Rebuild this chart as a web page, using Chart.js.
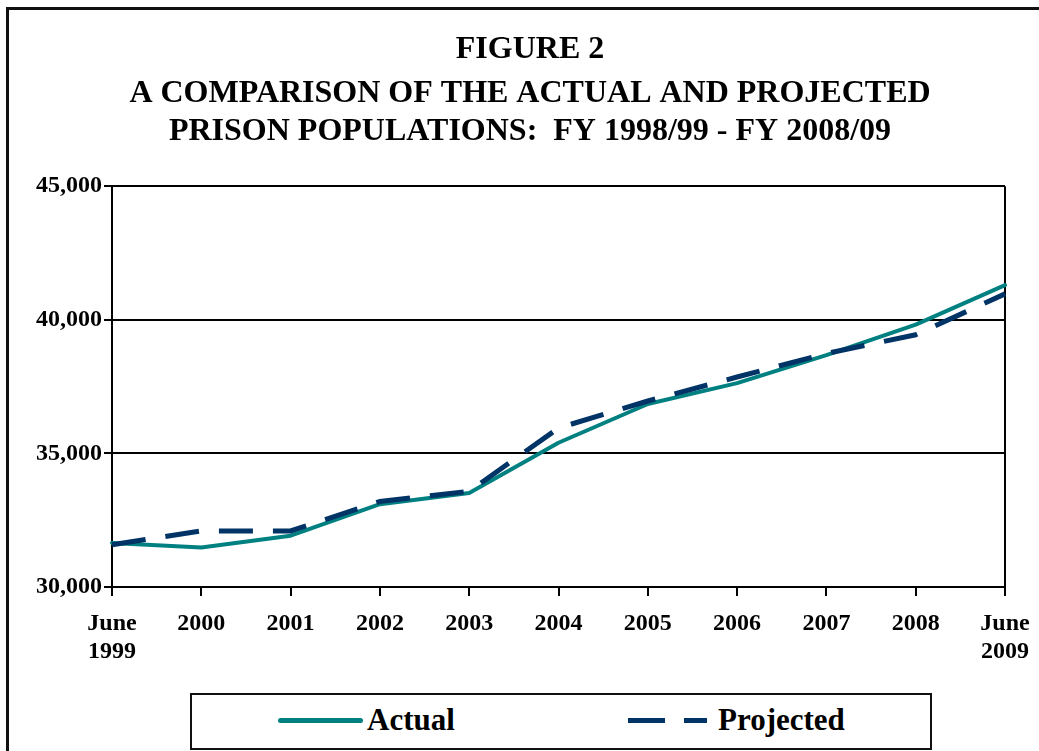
<!DOCTYPE html>
<html>
<head>
<meta charset="utf-8">
<title>Figure 2</title>
<script src="https://cdn.jsdelivr.net/npm/chart.js@4.4.1/dist/chart.umd.min.js"></script>
<style>
  html, body { margin: 0; padding: 0; background: #fff; overflow: hidden; }
  body { width: 1039px; height: 751px; position: relative; font-family: "Times New Roman", "Liberation Serif", serif; }
  #frame { position: absolute; left: 6px; top: 7px; width: 1100px; height: 800px; border: 3px solid #111; box-sizing: border-box; }
  #c { position: absolute; left: 0; top: 0; }
  #legend { position: absolute; left: 190px; top: 693px; width: 742px; height: 57px; border: 2px solid #111; box-sizing: border-box; background: #fff; }
  .sw { position: absolute; top: 23px; height: 5px; }
  .lbl { position: absolute; top: 9px; font-weight: bold; font-size: 31px; line-height: 31px; color: #000; white-space: nowrap; }
</style>
</head>
<body>
<div id="frame"></div>
<canvas id="c" width="1039" height="751"></canvas>
<div id="legend">
  <div class="sw" style="left:86px;width:85px;background:#008080;border-radius:3px;"></div>
  <div class="lbl" style="left:175px;">Actual</div>
  <div class="sw" style="left:436px;width:37px;background:#003366;"></div>
  <div class="sw" style="left:492px;width:23px;background:#003366;"></div>
  <div class="lbl" style="left:526px;">Projected</div>
</div>
<script>
// --- datos ---
const xLabels = [['June', '1999'], '2000', '2001', '2002', '2003', '2004', '2005', '2006', '2007', '2008', ['June', '2009']];
const actualPop = [31650, 31480, 31920, 33100, 33520, 35400, 36850, 37630, 38680, 39820, 41300];
const projectedPop = [31580, 32100, 32100, 33200, 33580, 35950, 36960, 37860, 38740, 39440, 40970];
const yTicks = [30000, 35000, 40000, 45000];

const serif = "'Times New Roman', 'Liberation Serif', serif";
const tickFont = { family: serif, size: 24, weight: 'bold' };
const titleFont = { family: serif, size: 32, weight: 'bold', lineHeight: 1.2 };

// el eje Y es estrecho a propósito (para centrar el título); se amplía su zona de recorte
const wideYLabels = {
    id: 'wideYLabels',
    afterLayout(chart) { chart.scales.y.left = 0; }
};

new Chart(document.getElementById('c'), {
    type: 'line',
    data: {
        labels: xLabels,
        datasets: [
            {
                label: 'Actual',
                data: actualPop,
                borderColor: '#008080',
                borderWidth: 4,
                borderCapStyle: 'round',
                borderJoinStyle: 'round',
                pointRadius: 0,
                tension: 0,
                order: 1
            },
            {
                label: 'Projected',
                data: projectedPop,
                borderColor: '#003366',
                borderWidth: 5,
                borderDash: [34, 20],
                pointRadius: 0,
                tension: 0,
                order: 0
            }
        ]
    },
    options: {
        responsive: false,
        animation: false,
        layout: { padding: { left: 55, right: 34, top: 0, bottom: 84 } },
        plugins: {
            legend: { display: false },
            tooltip: { enabled: false },
            title: {
                display: true,
                text: 'FIGURE 2',
                color: '#000',
                font: titleFont,
                padding: { top: 31, bottom: 5 }
            },
            subtitle: {
                display: true,
                text: ['A COMPARISON OF THE ACTUAL AND PROJECTED', 'PRISON POPULATIONS:  FY 1998/99 - FY 2008/09'],
                color: '#000',
                font: titleFont,
                padding: { top: 0, bottom: 35 }
            }
        },
        scales: {
            x: {
                grid: {
                    // solo la última línea (borde derecho del área)
                    color: ctx => ctx.index === xLabels.length - 1 ? '#000' : 'rgba(0,0,0,0)',
                    tickColor: '#000',
                    lineWidth: 2,
                    tickLength: 9
                },
                border: { color: '#000', width: 2 },
                ticks: { color: '#000', font: tickFont, padding: 13, maxRotation: 0, autoSkip: false },
                afterFit: s => { s.height = 80; s.paddingLeft = 0; s.paddingRight = 0; }
            },
            y: {
                min: yTicks[0],
                max: yTicks[yTicks.length - 1],
                afterBuildTicks: s => { s.ticks = yTicks.map(v => ({ value: v })); },
                grid: { color: '#000', lineWidth: 2, tickLength: 8 },
                border: { color: '#000', width: 2 },
                ticks: {
                    color: '#000',
                    font: tickFont,
                    padding: 2,
                    callback: v => v.toLocaleString('en-US')
                },
                afterFit: s => { s.width = 57; }
            }
        }
    },
    plugins: [wideYLabels]
});
</script>
</body>
</html>
